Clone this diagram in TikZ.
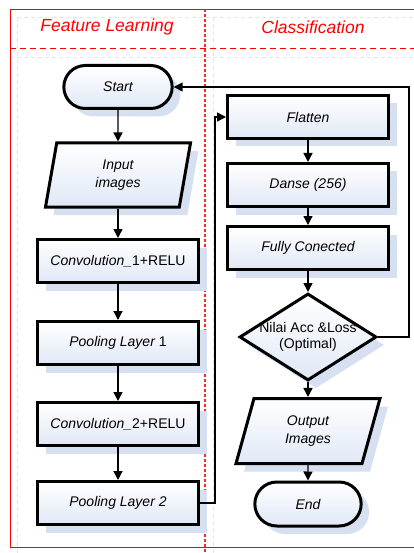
\documentclass[tikz,border=0pt]{standalone}
\usepackage{fontspec}
\setmainfont{Liberation Sans}
\usetikzlibrary{shapes.geometric,shapes.misc,arrows.meta,shadows}
\definecolor{shadowblue}{RGB}{214,224,240}
\definecolor{fillblue}{RGB}{224,232,246}

\begin{document}
\begin{tikzpicture}[x=1pt, y=-1pt,
    lanebox/.style={draw=red, line width=0.9pt},
    lanesep/.style={draw=red, line width=0.9pt, dash pattern=on 6pt off 4pt},
    lanediv/.style={draw=red!85, line width=1.1pt, dash pattern=on 3pt off 2pt},
    faint/.style={draw=gray!20, line width=0.6pt, dash pattern=on 4pt off 3pt},
    lanehead/.style={text=red, font=\fontsize{17.5}{20}\selectfont\itshape},
    flowshape/.style={draw, line width=3pt, top color=white, bottom color=fillblue,
      drop shadow={shadow xshift=8pt, shadow yshift=-8pt, fill=shadowblue, opacity=1},
      font=\fontsize{14}{17.5}\selectfont\itshape, align=center},
    procbox/.style={flowshape, rectangle, minimum width=161, minimum height=43},
    termbox/.style={flowshape, rounded rectangle, minimum width=115, minimum height=43},
    iobox/.style={flowshape, trapezium, trapezium stretches body, minimum height=64},
    decbox/.style={flowshape, diamond, minimum width=137, minimum height=87, inner sep=0pt},
    flowline/.style={-{Triangle[length=9pt, width=9pt]}, line width=1.4pt},
  ]
  \useasboundingbox (0,0) rectangle (413,553);
  % swimlanes
  \draw[faint] (17,17) -- (415,17);
  \draw[faint] (17,57) -- (415,57);
  \draw[faint] (17,17) -- (17,555);
  \draw[faint] (213,17) -- (213,555);
  \draw[lanebox] (415,9) -- (10,9) -- (10,547) -- (415,547);
  \draw[lanesep] (10,48) -- (415,48);
  \draw[lanediv] (205,9) -- (205,555);
  \node[lanehead] (hfeat) at (107,27) {Feature Learning};
  \node[lanehead] (hclass) at (313,27) {Classification};

  % feature learning
  \node[termbox] (start) at (118,87) {Start};
  \node[iobox, trapezium left angle=73, trapezium right angle=107, minimum width=145] (input) at (118,175) {Input\\images};
  \node[procbox] (conv1) at (118,261) {Convolution\_{\upshape 1+RELU}};
  \node[procbox] (pool1) at (118,343) {Pooling Layer {\upshape 1}};
  \node[procbox] (conv2) at (118,424) {Convolution\_{\upshape 2+RELU}};
  \node[procbox] (pool2) at (118,503) {Pooling Layer 2};

  % classification
  \node[procbox] (flatten) at (308,117) {Flatten};
  \node[procbox] (danse) at (308,185) {Danse (256)};
  \node[procbox] (fully) at (308,248) {Fully Conected};
  \node[decbox] (acc) at (308,337) {};
  \node[font=\fontsize{14}{16}\selectfont, align=center] (acctext) at (acc) {Nilai Acc \&Loss\\(Optimal)};
  \node[iobox, trapezium left angle=64, trapezium right angle=116, minimum width=144, minimum height=65] (output) at (308,431) {Output\\Images};
  \node[termbox, minimum width=113, minimum height=44] (end) at (308,504) {End};

  % connectors
  \draw[flowline] (start) -- (input);
  \draw[flowline] (input) -- (conv1);
  \draw[flowline] (conv1) -- (pool1);
  \draw[flowline] (pool1) -- (conv2);
  \draw[flowline] (conv2) -- (pool2);
  \draw[flowline] (pool2.east) -- ++(15,0) |- (flatten.west);
  \draw[flowline] (flatten) -- (danse);
  \draw[flowline] (danse) -- (fully);
  \draw[flowline] (fully) -- (acc);
  \draw[flowline] (acc) -- (output);
  \draw[flowline] (output) -- (end);
  \draw[flowline] (acc.east) -- ++(31,0) |- (start.east);
\end{tikzpicture}
\end{document}
